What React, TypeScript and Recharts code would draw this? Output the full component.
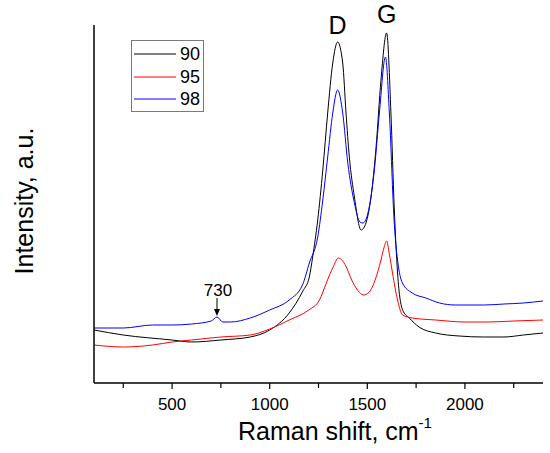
import { LineChart, Line, XAxis, YAxis, Legend, ReferenceDot } from "recharts";

// Raman spectra (intensity in arbitrary units)
const shift90 = [100, 250, 500, 600, 750, 900, 1000, 1100, 1170, 1203, 1220, 1246, 1272, 1297, 1323, 1348, 1374, 1391, 1408, 1434, 1468, 1493, 1519, 1545, 1570, 1599, 1621, 1638, 1655, 1681, 1715, 1765, 1850, 1970, 2100, 2200, 2300, 2400];
const intensity90 = [53, 48, 43, 41, 43, 46, 53, 70, 92, 106, 126, 163, 213, 270, 320, 341, 320, 270, 226, 186, 153, 160, 186, 236, 303, 350, 270, 175, 110, 73, 65, 56, 50, 47, 46, 46, 48, 50];

const shift95 = [100, 250, 400, 500, 600, 750, 900, 1000, 1100, 1200, 1255, 1290, 1325, 1352, 1390, 1420, 1450, 1480, 1510, 1540, 1570, 1585, 1599, 1612, 1629, 1655, 1681, 1730, 1850, 2000, 2120, 2250, 2400];
const intensity95 = [38, 36, 38, 41, 43, 46, 48, 54, 63, 73, 83, 100, 116, 125, 117, 103, 93, 88, 91, 103, 123, 135, 142, 130, 110, 83, 68, 65, 63, 61, 61, 62, 63];

const shift98 = [100, 250, 400, 500, 600, 700, 730, 760, 800, 900, 1000, 1100, 1168, 1203, 1246, 1272, 1297, 1323, 1348, 1374, 1400, 1434, 1462, 1478, 1510, 1536, 1562, 1593, 1613, 1638, 1655, 1680, 1730, 1800, 1870, 1950, 2100, 2200, 2300, 2400];
const intensity98 = [55, 55, 58, 58, 59, 62, 66, 61, 61, 65, 73, 83, 98, 120, 146, 183, 226, 270, 293, 270, 220, 180, 161, 160, 176, 213, 270, 326, 270, 160, 123, 100, 90, 85, 80, 78, 78, 79, 80, 82];

const xTicks = [250, 500, 750, 1000, 1250, 1500, 1750, 2000, 2250];
const majorTicks = [500, 1000, 1500, 2000];

const series = [
  { name: "90", color: "#000000", shift: shift90, intensity: intensity90 },
  { name: "95", color: "#ff0000", shift: shift95, intensity: intensity95 },
  { name: "98", color: "#0000ff", shift: shift98, intensity: intensity98 },
];

const FONT = "Arial, 'Liberation Sans', sans-serif";

const toPoints = (xs: number[], ys: number[]) => xs.map((x, i) => ({ x, y: ys[i] }));

function XTick(props: any) {
  const { x, y, payload } = props;
  const major = majorTicks.includes(payload.value);
  return (
    <g>
      <line x1={x} x2={x} y1={y} y2={y + (major ? 6 : 5)} stroke="#000" strokeWidth={1.2} />
      {major && (
        <text x={x} y={y + 27} textAnchor="middle" fontSize={17} fontFamily={FONT} fill="#000">
          {payload.value}
        </text>
      )}
    </g>
  );
}

function XTitle(props: any) {
  const { viewBox } = props;
  return (
    <text x={viewBox.x + 144} y={viewBox.y + 57} fontSize={25} fontFamily={FONT} fill="#000">
      Raman shift, cm
      <tspan fontSize={15} dy={-12}>-1</tspan>
    </text>
  );
}

function YTitle(props: any) {
  const { viewBox } = props;
  const cx = 33;
  const cy = viewBox.y + viewBox.height / 2 - 3;
  return (
    <text
      x={cx}
      y={cy}
      transform={`rotate(-90 ${cx} ${cy})`}
      textAnchor="middle"
      fontSize={25}
      fontFamily={FONT}
      fill="#000"
    >
      Intensity, a.u.
    </text>
  );
}

function PeakNote(props: any) {
  const { viewBox } = props;
  const cx = viewBox.x + viewBox.width / 2;
  const cy = viewBox.y + viewBox.height / 2;
  return (
    <g>
      <text x={cx + 1} y={cy - 21} textAnchor="middle" fontSize={17} fontFamily={FONT} fill="#000">
        730
      </text>
      <line x1={cx} x2={cx} y1={cy - 19} y2={cy - 4} stroke="#000" strokeWidth={1} />
      <path d={`M${cx - 3},${cy - 8} L${cx},${cy - 1} L${cx + 3},${cy - 8} Z`} fill="#000" />
    </g>
  );
}

function LegendBox() {
  return (
    <div
      style={{
        border: "1px solid #7a7a7a",
        background: "#fff",
        width: 73,
        height: 72,
        boxSizing: "border-box",
        padding: "2px 0 0 2px",
        fontFamily: FONT,
        fontSize: 18,
        textAlign: "left",
      }}
    >
      {series.map((s) => (
        <div key={s.name} style={{ display: "flex", alignItems: "center", height: 22.5 }}>
          <svg width={44} height={4}>
            <line x1={0} x2={42} y1={2} y2={2} stroke={s.color} strokeWidth={1} />
          </svg>
          <span style={{ marginLeft: 2, lineHeight: "18px" }}>{s.name}</span>
        </div>
      ))}
    </div>
  );
}

export default function App() {
  return (
    <div style={{ position: "absolute", left: 0, top: 0, background: "#fff" }}>
      <LineChart width={550} height={453} margin={{ top: 25, right: 7, bottom: 0, left: 34 }}>
        <XAxis
          type="number"
          dataKey="x"
          domain={[100, 2400]}
          ticks={xTicks}
          allowDataOverflow
          height={70}
          tickSize={0}
          tickMargin={0}
          tickLine={false}
          tick={<XTick />}
          axisLine={{ stroke: "#000", strokeWidth: 1.5 }}
          label={<XTitle />}
        />
        <YAxis
          type="number"
          dataKey="y"
          domain={[0, 358]}
          width={60}
          tick={false}
          tickLine={false}
          axisLine={{ stroke: "#000", strokeWidth: 1.5 }}
          label={<YTitle />}
        />
        <Legend
          layout="horizontal"
          verticalAlign="middle"
          align="center"
          content={<LegendBox />}
          wrapperStyle={{ left: 131, top: 40, width: 73, height: 72 }}
        />
        {series.map((s) => (
          <Line
            key={s.name}
            name={s.name}
            data={toPoints(s.shift, s.intensity)}
            dataKey="y"
            type="monotone"
            stroke={s.color}
            strokeWidth={1}
            dot={false}
            isAnimationActive={false}
          />
        ))}
        <ReferenceDot x={1348} y={341} r={0} fill="none" stroke="none" label={{ value: "D", position: "top", offset: 8, fontSize: 25, fontFamily: FONT, fill: "#000" }} />
        <ReferenceDot x={1599} y={350} r={0} fill="none" stroke="none" label={{ value: "G", position: "top", offset: 10, fontSize: 25, fontFamily: FONT, fill: "#000" }} />
        <ReferenceDot x={730} y={66} r={0} fill="none" stroke="none" label={<PeakNote />} />
      </LineChart>
    </div>
  );
}
